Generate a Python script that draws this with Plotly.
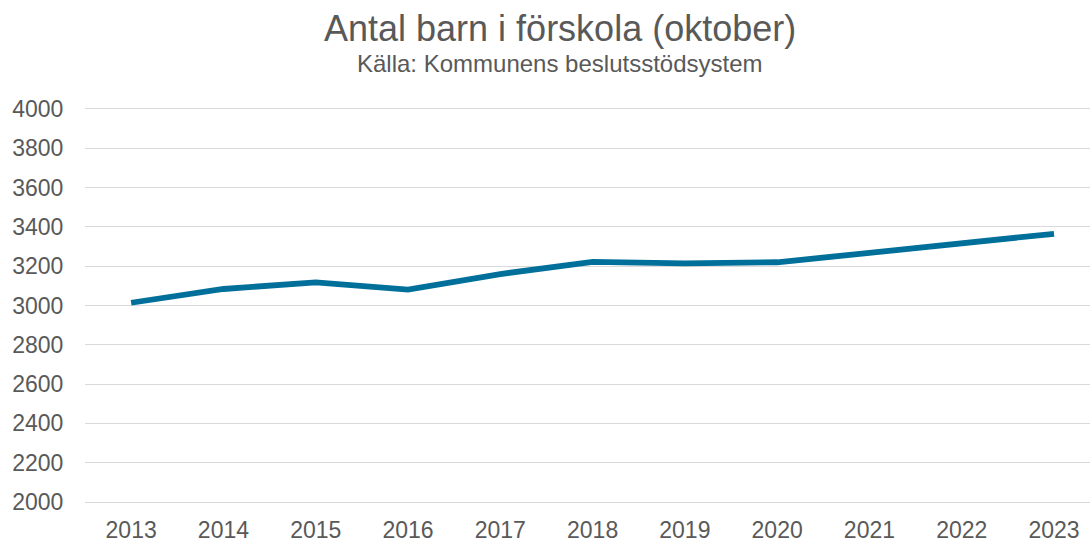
import plotly.graph_objects as go

years = [2013, 2014, 2015, 2016, 2017, 2018, 2019, 2020, 2021, 2022, 2023]
children = [3014, 3084, 3118, 3081, 3160, 3222, 3214, 3220, 3268, 3316, 3365]
y_ticks = [2000, 2200, 2400, 2600, 2800, 3000, 3200, 3400, 3600, 3800, 4000]

title_text = "Antal barn i förskola (oktober)"
subtitle_text = "Källa: Kommunens beslutsstödsystem"

grey = "#595959"
font_family = "Liberation Sans, Arial, sans-serif"

Y_MIN, Y_MAX = 1990, 4010
PLOT_TOP = 107
PLOT_H = 397.2


def ypaper(px):
    return 1 + (PLOT_TOP - px) / PLOT_H


fig = go.Figure()
fig.add_trace(go.Scatter(
    x=years, y=children, mode="lines",
    line=dict(color="#00709B", width=5.8),
    hoverinfo="x+y",
))

fig.update_layout(
    width=1090, height=543,
    margin=dict(l=85, r=0, t=PLOT_TOP, b=543 - PLOT_TOP - PLOT_H, autoexpand=False),
    paper_bgcolor="white", plot_bgcolor="white",
    showlegend=False,
    font=dict(family=font_family, color=grey, size=23),
    xaxis=dict(
        range=[2012.5, 2023.39],
        tickvals=years, ticktext=[str(y) for y in years],
        showgrid=False, zeroline=False, showline=False,
        ticks="outside", ticklen=5, tickcolor="rgba(0,0,0,0)",
        tickfont=dict(size=23, color=grey),
        automargin=False,
    ),
    yaxis=dict(
        range=[Y_MIN, Y_MAX],
        tickvals=y_ticks,
        showgrid=True, gridcolor="#D9D9D9", gridwidth=1.3,
        zeroline=False, showline=False,
        ticks="outside", ticklen=16, tickcolor="rgba(0,0,0,0)",
        tickfont=dict(size=23, color=grey),
        automargin=False,
    ),
    annotations=[
        dict(text=title_text, xref="paper", yref="paper",
             x=0.4726, y=ypaper(28), xanchor="center", yanchor="middle",
             showarrow=False, font=dict(size=36, color=grey, family=font_family)),
        dict(text=subtitle_text, xref="paper", yref="paper",
             x=0.4726, y=ypaper(63), xanchor="center", yanchor="middle",
             showarrow=False, font=dict(size=24, color=grey, family=font_family)),
    ],
)

fig.write_html(
    "out.html",
    config={"displayModeBar": False},
    post_script="document.body.style.margin='0';document.body.style.overflow='hidden';",
)
